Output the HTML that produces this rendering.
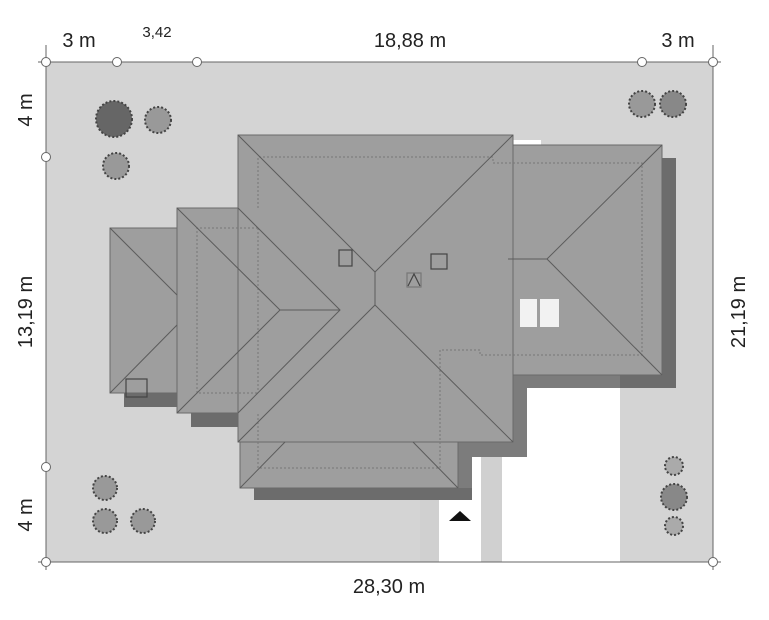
<!DOCTYPE html>
<html><head><meta charset="utf-8"><style>
html,body{margin:0;padding:0;background:#fff;}
svg{display:block;}
text{font-family:"Liberation Sans",sans-serif;fill:#222;}
</style></head><body>
<svg width="769" height="620" viewBox="0 0 769 620" xmlns="http://www.w3.org/2000/svg">
<rect x="46" y="62" width="667" height="500" fill="#d4d4d4"/>
<polygon points="527,388 620,388 620,562 502,562 502,457 527,457" fill="#fff"/>
<rect x="439" y="500" width="42" height="62" fill="#fff"/>
<rect x="472" y="457" width="9" height="105" fill="#fff"/>
<rect x="481" y="443" width="21" height="119" fill="#d0d0d0"/>
<rect x="420" y="500" width="19" height="62" fill="#d0d0d0"/>
<rect x="513" y="140" width="28" height="5" fill="#fff"/>
<rect x="662" y="158" width="14" height="230" fill="#6c6c6c"/>
<rect x="620" y="375" width="56" height="13" fill="#6c6c6c"/>
<rect x="513" y="375" width="107" height="13" fill="#7c7c7c"/>
<rect x="513" y="375" width="14" height="82" fill="#7c7c7c"/>
<rect x="458" y="442" width="69" height="15" fill="#7c7c7c"/>
<rect x="458" y="442" width="14" height="58" fill="#7c7c7c"/>
<rect x="254" y="488" width="218" height="12" fill="#6c6c6c"/>
<rect x="191" y="413" width="47" height="14" fill="#6c6c6c"/>
<rect x="124" y="393" width="53" height="14" fill="#6c6c6c"/>
<g stroke="#6a6a6a" stroke-width="1" fill="#9e9e9e">
<rect x="110" y="228" width="67" height="165"/>
<rect x="177" y="208" width="61" height="205"/>
<rect x="513" y="145" width="149" height="230"/>
<rect x="238" y="135" width="275" height="307"/>
<rect x="240" y="442" width="218" height="46"/>
</g>
<g stroke="#777" stroke-width="1" stroke-dasharray="2,2" fill="none">
<polyline points="258,208 258,157 493,157 493,163 642,163 642,355 480,355 480,350 440,350 440,468 258,468 258,413"/>
<polyline points="258,228 197,228 197,393 258,393"/>
<line x1="258" y1="228" x2="258" y2="393"/>
</g>
<g stroke="#5c5c5c" stroke-width="1" fill="none">
<line x1="110" y1="228" x2="177" y2="295"/><line x1="110" y1="393" x2="177" y2="325"/>
<polyline points="177,208 280,310 177,413"/>
<polyline points="238,208 340,310 238,413" />
<line x1="280" y1="310" x2="340" y2="310"/>
<polyline points="238,135 375,272 513,135"/>
<line x1="375" y1="272" x2="375" y2="305"/>
<polyline points="238,442 375,305 513,442"/>
<polyline points="508,259 547,259 662,145"/>
<line x1="547" y1="259" x2="662" y2="375"/>
<line x1="240" y1="488" x2="285" y2="442"/>
<line x1="458" y1="488" x2="413" y2="442"/>
</g>
<g fill="none" stroke="#444" stroke-width="1.2">
<rect x="339" y="250" width="13" height="16"/>
<rect x="431" y="254" width="16" height="15"/>
<rect x="407" y="273" width="14" height="14" stroke="#777"/>
<polyline points="408,286 414,274 420,286"/>
<rect x="126" y="379" width="21" height="18"/>
</g>
<rect x="520" y="299" width="17" height="28" fill="#f2f2f2"/>
<rect x="540" y="299" width="19" height="28" fill="#f2f2f2"/>
<polygon points="449,521 460,511 471,521" fill="#111"/>
<g stroke="#444" stroke-width="2" stroke-dasharray="2,2">
<circle cx="114" cy="119" r="18" fill="#666"/>
<circle cx="158" cy="120" r="13" fill="#999"/>
<circle cx="116" cy="166" r="13" fill="#999"/>
<circle cx="642" cy="104" r="13" fill="#999"/>
<circle cx="673" cy="104" r="13" fill="#888"/>
<circle cx="105" cy="488" r="12" fill="#999"/>
<circle cx="105" cy="521" r="12" fill="#999"/>
<circle cx="143" cy="521" r="12" fill="#999"/>
<circle cx="674" cy="466" r="9" fill="#aaa"/>
<circle cx="674" cy="497" r="13" fill="#888"/>
<circle cx="674" cy="526" r="9" fill="#aaa"/>
</g>
<g fill="#fff" stroke="#666" stroke-width="1">
<line x1="38" y1="62" x2="721" y2="62"/>
<line x1="46" y1="45" x2="46" y2="570"/>
<line x1="713" y1="45" x2="713" y2="570"/>
<line x1="38" y1="562" x2="721" y2="562"/>
<circle cx="46" cy="62" r="4.5"/><circle cx="117" cy="62" r="4.5"/><circle cx="197" cy="62" r="4.5"/>
<circle cx="642" cy="62" r="4.5"/><circle cx="713" cy="62" r="4.5"/>
<circle cx="46" cy="157" r="4.5"/><circle cx="46" cy="467" r="4.5"/><circle cx="46" cy="562" r="4.5"/>
<circle cx="713" cy="562" r="4.5"/>
</g>
<text x="79" y="47" font-size="20" text-anchor="middle">3 m</text>
<text x="157" y="37" font-size="15" text-anchor="middle">3,42</text>
<text x="410" y="47" font-size="20" text-anchor="middle">18,88 m</text>
<text x="678" y="47" font-size="20" text-anchor="middle">3 m</text>
<text x="389" y="593" font-size="20" text-anchor="middle">28,30 m</text>
<text transform="translate(32,110) rotate(-90)" font-size="20" text-anchor="middle">4 m</text>
<text transform="translate(32,312) rotate(-90)" font-size="20" text-anchor="middle">13,19 m</text>
<text transform="translate(32,515) rotate(-90)" font-size="20" text-anchor="middle">4 m</text>
<text transform="translate(745,312) rotate(-90)" font-size="20" text-anchor="middle">21,19 m</text>
</svg>
</body></html>
